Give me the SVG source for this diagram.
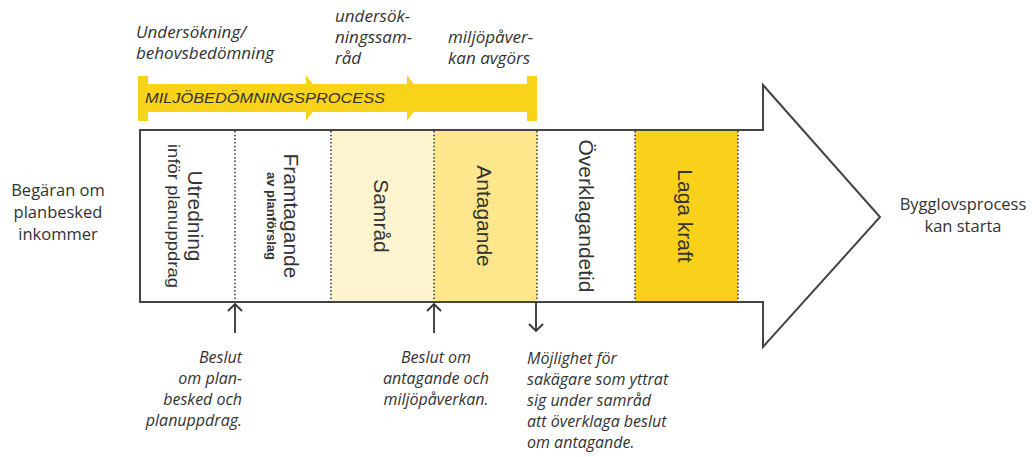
<svg xmlns="http://www.w3.org/2000/svg" width="1032" height="457" viewBox="0 0 1032 457">
<defs>
<style>
.lbl{font-family:"Open Sans","Liberation Sans",sans-serif;fill:#333;}
.it{font-style:italic;font-size:16px;}
.top{font-style:italic;font-size:17px;}
.side{font-size:16.5px;}
.col{font-family:"Liberation Sans",Arial,sans-serif;fill:#333;font-size:21px;text-anchor:middle;}
.div{stroke:#333;stroke-width:1.5;stroke-dasharray:1.5 2.2;fill:none;}
.conn{stroke:#333;stroke-width:1.8;fill:none;}
</style>
<marker id="open" viewBox="-10 -10 20 20" markerWidth="20" markerHeight="20" refX="0" refY="0" orient="auto" markerUnits="userSpaceOnUse">
<path d="M-7,-7 L0,0 L-7,7" fill="none" stroke="#333" stroke-width="1.8"/>
</marker>
</defs>
<rect width="1032" height="457" fill="#fff"/>

<g id="miljobedomning">
<rect x="138" y="76" width="10" height="45" fill="#F9D21A"/>
<rect x="148" y="84" width="380" height="28" fill="#F9D21A"/>
<polygon points="306,75 323,98 306,121" fill="#F9D21A"/>
<polygon points="407,75 424,98 407,121" fill="#F9D21A"/>
<rect x="527" y="76" width="10" height="45" fill="#F9D21A"/>
<text x="145" y="103" font-family="Liberation Sans, Arial, sans-serif" font-style="italic" font-size="15" fill="#333" textLength="240" lengthAdjust="spacingAndGlyphs">MILJÖBEDÖMNINGSPROCESS</text>
</g>

<g id="top-labels">
<text class="lbl top" x="136"><tspan x="136" y="38">Undersökning/</tspan><tspan x="136" y="59">behovsbedömning</tspan></text>
<text class="lbl top" x="335"><tspan x="335" y="22">undersök-</tspan><tspan x="335" y="43">ningssam-</tspan><tspan x="335" y="64">råd</tspan></text>
<text class="lbl top" x="448"><tspan x="448" y="43">miljöpåver-</tspan><tspan x="448" y="64">kan avgörs</tspan></text>
</g>

<g id="process-arrow">
<path d="M140,130 H763 V85 L880,217 L763,347 V302 H140 Z" fill="#fff"/>
<rect x="331" y="130" width="103" height="172" fill="#FEF5D0"/>
<rect x="434" y="130" width="103" height="172" fill="#FDE68C"/>
<rect x="635" y="130" width="103" height="172" fill="#F9D11B"/>
<path d="M140,130 H763 V85 L880,217 L763,347 V302 H140 Z" fill="none" stroke="#444" stroke-width="2"/>
<line class="div" x1="235" y1="131" x2="235" y2="301"/>
<line class="div" x1="331" y1="131" x2="331" y2="301"/>
<line class="div" x1="434" y1="131" x2="434" y2="301"/>
<line class="div" x1="537" y1="131" x2="537" y2="301"/>
<line class="div" x1="635" y1="131" x2="635" y2="301"/>
<line class="div" x1="738" y1="131" x2="738" y2="301"/>
</g>

<g id="utredning">
<text class="col" transform="translate(188,216) rotate(90)">Utredning</text>
<text class="col" font-size="17" style="font-size:17px" transform="translate(168,216) rotate(90)" textLength="144" lengthAdjust="spacingAndGlyphs">inför planuppdrag</text>
</g>
<g id="framtagande">
<text class="col" transform="translate(284,216) rotate(90)">Framtagande</text>
<text class="col" style="font-size:12px;font-weight:bold" transform="translate(267,216) rotate(90)" textLength="88" lengthAdjust="spacingAndGlyphs">av planförslag</text>
</g>
<g id="samrad">
<text class="col" transform="translate(374,216) rotate(90)">Samråd</text>
</g>
<g id="antagande">
<text class="col" transform="translate(477,216) rotate(90)">Antagande</text>
</g>
<g id="overklagandetid">
<text class="col" transform="translate(579,216) rotate(90)">Överklagandetid</text>
</g>
<g id="laga-kraft">
<text class="col" transform="translate(678,216) rotate(90)">Laga kraft</text>
</g>

<g id="begaran">
<text class="lbl side" text-anchor="middle"><tspan x="58" y="196">Begäran om</tspan><tspan x="58" y="218">planbesked</tspan><tspan x="58" y="240">inkommer</tspan></text>
</g>
<g id="bygglov">
<text class="lbl side" text-anchor="middle"><tspan x="963" y="210">Bygglovsprocess</tspan><tspan x="963" y="232">kan starta</tspan></text>
</g>

<g id="connectors">
<line class="conn" x1="235" y1="333" x2="235" y2="304" marker-end="url(#open)"/>
<line class="conn" x1="434" y1="333" x2="434" y2="304" marker-end="url(#open)"/>
<line class="conn" x1="536" y1="302" x2="536" y2="331" marker-end="url(#open)"/>
</g>

<g id="beslut-planuppdrag">
<text class="lbl it" text-anchor="end"><tspan x="242" y="363">Beslut</tspan><tspan x="242" y="384">om plan-</tspan><tspan x="242" y="405">besked och</tspan><tspan x="242" y="426">planuppdrag.</tspan></text>
</g>
<g id="beslut-antagande">
<text class="lbl it" text-anchor="middle"><tspan x="436" y="363">Beslut om</tspan><tspan x="436" y="384">antagande och</tspan><tspan x="436" y="405">miljöpåverkan.</tspan></text>
</g>
<g id="mojlighet">
<text class="lbl it"><tspan x="527" y="364">Möjlighet för</tspan><tspan x="527" y="385">sakägare som yttrat</tspan><tspan x="527" y="406">sig under samråd</tspan><tspan x="527" y="427">att överklaga beslut</tspan><tspan x="527" y="448">om antagande.</tspan></text>
</g>
</svg>
